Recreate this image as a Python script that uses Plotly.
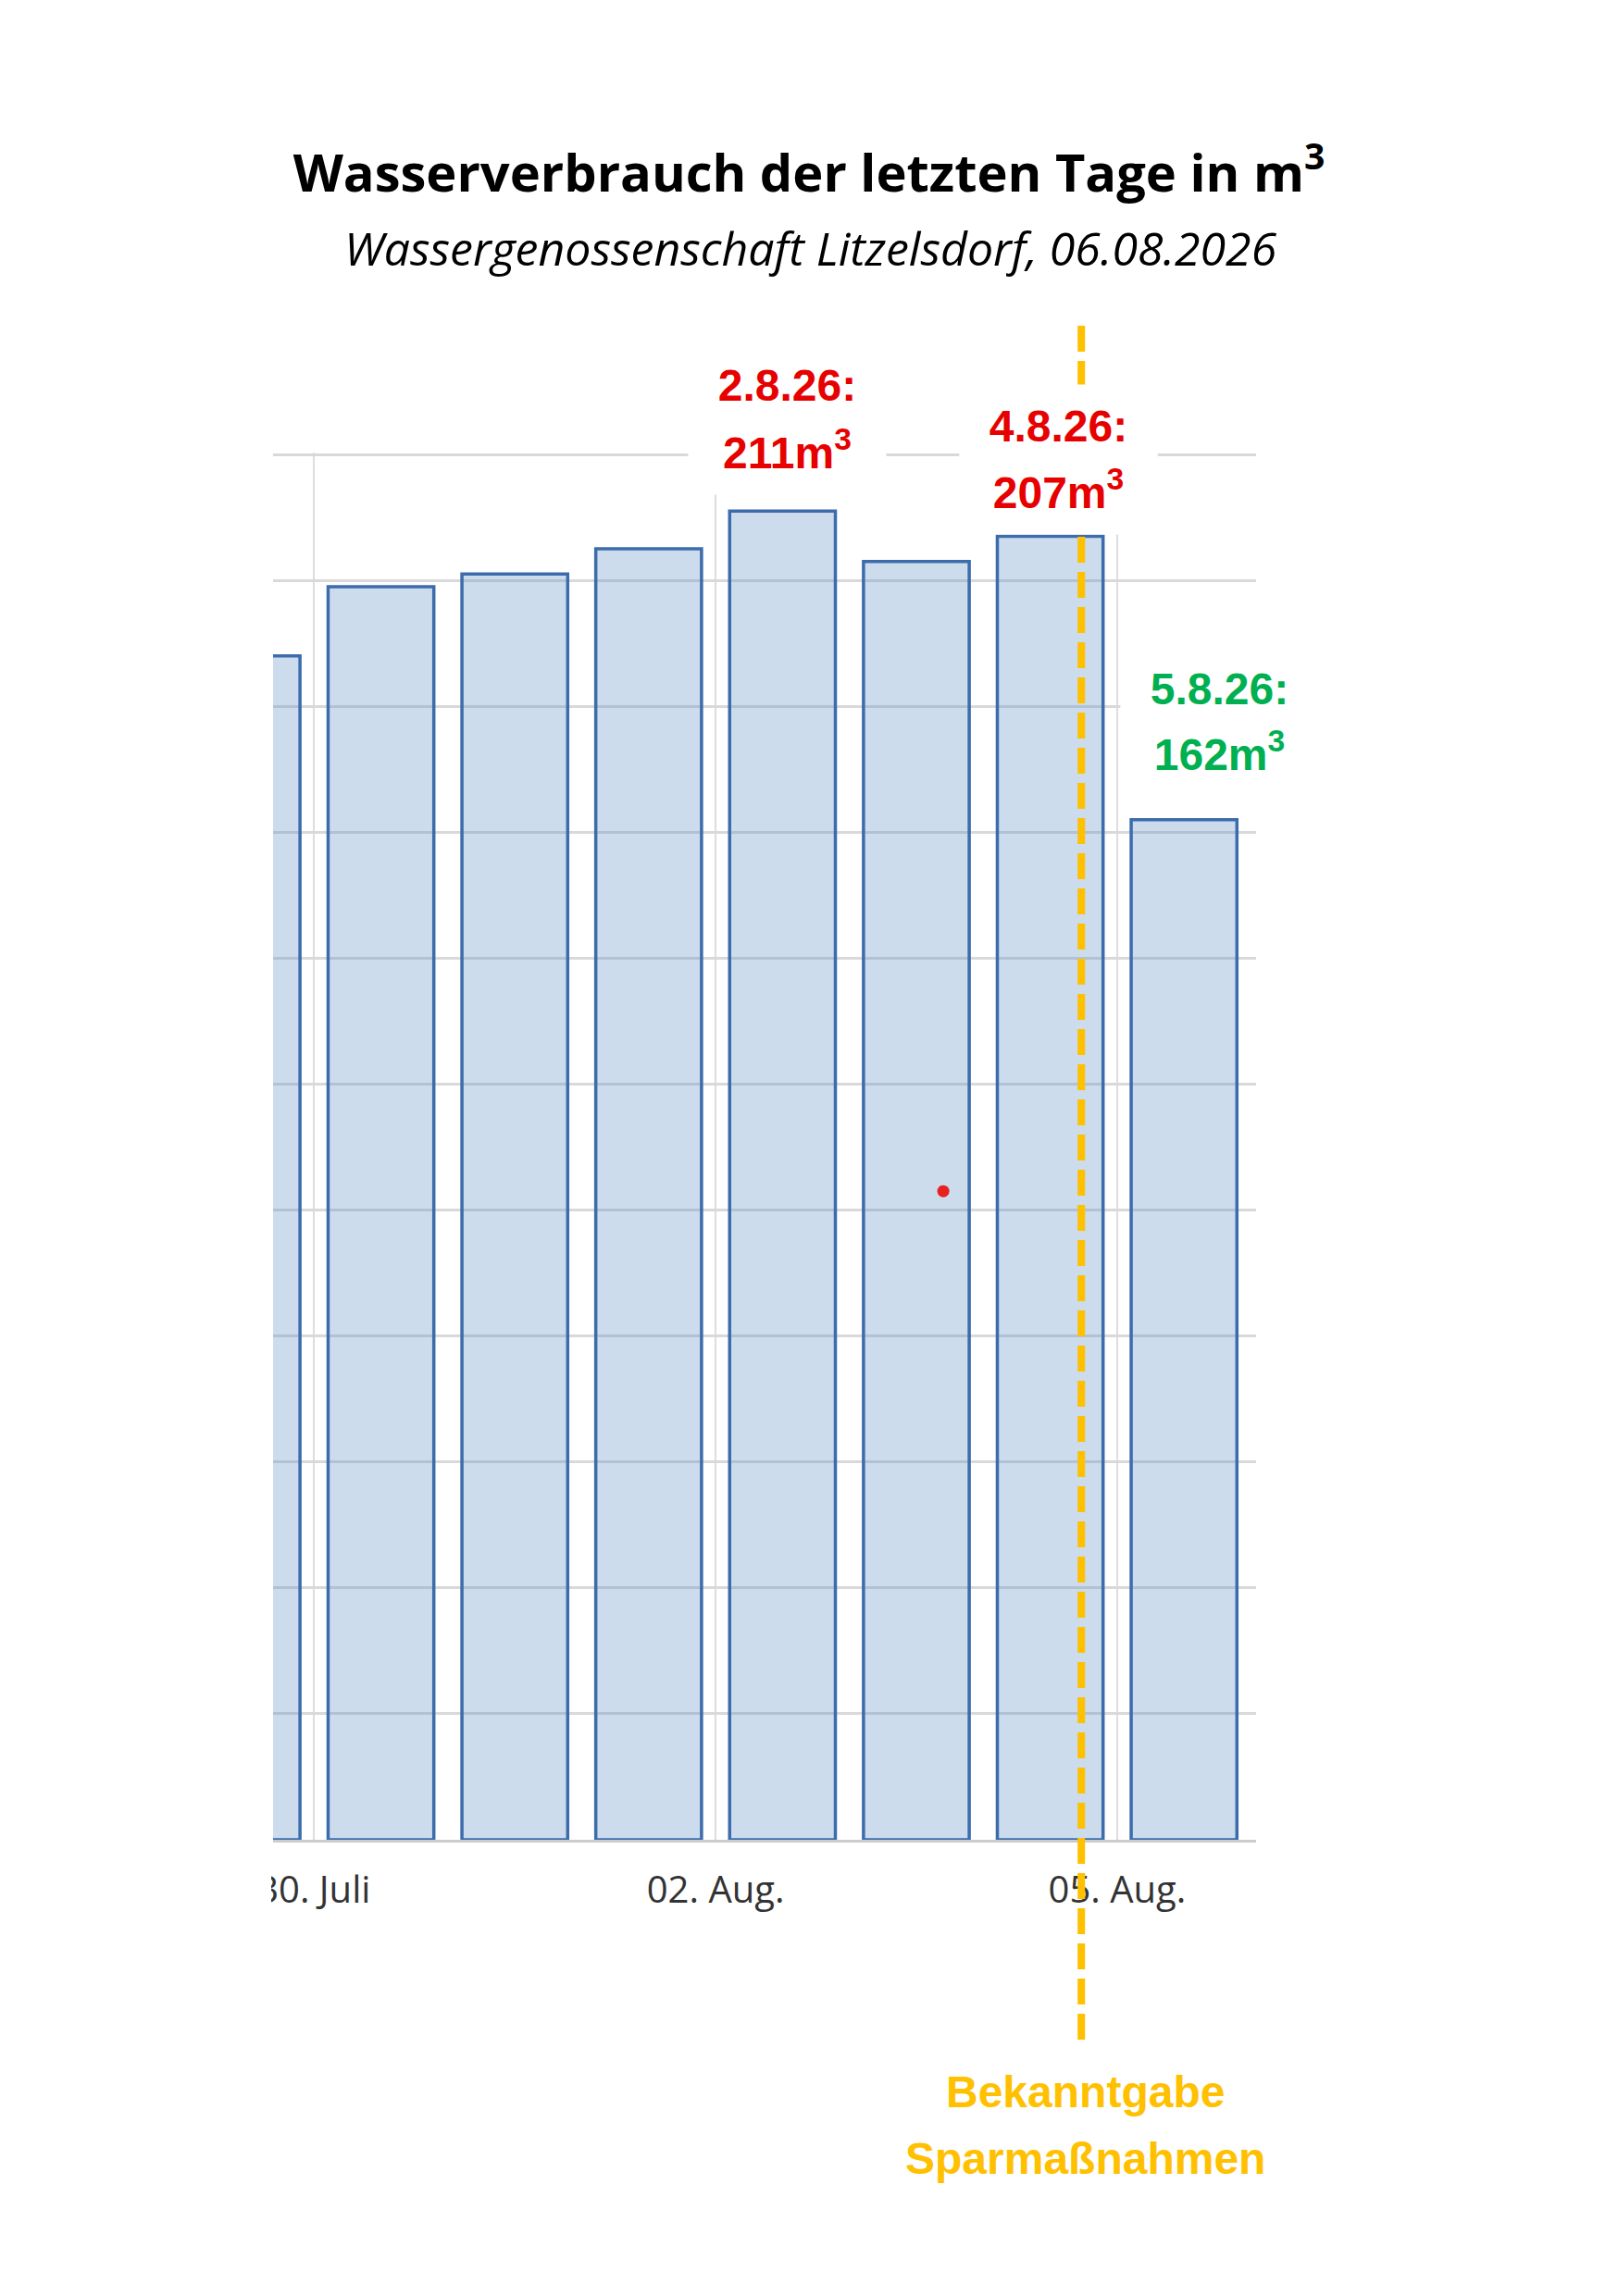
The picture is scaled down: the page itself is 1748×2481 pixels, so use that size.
import pandas as pd
import plotly.graph_objects as go

# Tagesverbrauch in m3, 29.07. - 05.08.2026
days = ["2026-07-29", "2026-07-30", "2026-07-31", "2026-08-01",
        "2026-08-02", "2026-08-03", "2026-08-04", "2026-08-05"]
consumption = [188, 199, 201, 205, 211, 203, 207, 162]

tick_days = ["2026-07-30", "2026-08-02", "2026-08-05"]
tick_labels = ["30. Juli", "02. Aug.", "05. Aug."]

# highlighted days (index into days) and their label colours
label_idx = [4, 6, 7]
label_colors = ["#e60000", "#e60000", "#00b050"]

# announcement of the saving measures
announcement = "2026-08-04 17:35"
announcement_text = ["Bekanntgabe", "Sparmaßnahmen"]

# stray red dot in the original picture
stray_dot_x = ["2026-08-03 16:50"]
stray_dot_y = [103]

# page is 1748x2481, the html body adds an 8px margin
PAGE_W, PAGE_H, BODY = 1748, 2481, 8
W, H = PAGE_W - 2 * BODY, PAGE_H - 2 * BODY
L, R, T, B = 295, 1357, 489, 1988  # plot area in page px
Y_MAX = 220.3

DAY_MS = 86400000
YELLOW = "#ffc000"


def ypaper(ypx):
    return (B - ypx) / (B - T)


def xpaper(xpx):
    return (xpx - L) / (R - L)


def main():
    fig = go.Figure()

    fig.add_trace(go.Bar(
        x=days,
        y=consumption,
        xperiod=DAY_MS,
        xperiodalignment="middle",
        width=0.79 * DAY_MS,
        marker=dict(color="rgba(100,150,200,0.33)",
                    line=dict(color="#3d6cac", width=3.5)),
        hoverinfo="skip",
    ))

    fig.add_trace(go.Scatter(
        x=stray_dot_x, y=stray_dot_y, mode="markers",
        marker=dict(size=13, color="#e8201e"),
        hoverinfo="skip",
    ))

    # labels above the highlighted bars, two lines each with white box
    label_pos = [(416, 486, 5), (460, 529, 9), (744, 812, 38)]
    for (i, col, (y1, y2, shift)) in zip(label_idx, label_colors, label_pos):
        d = pd.Timestamp(days[i])
        xc = d + pd.Timedelta(hours=12)
        lines = [f"{d.day}.{d.month}.{d.year % 100}:",
                 f"{consumption[i]}m<sup>3</sup>"]
        for txt, ypx in zip(lines, [y1, y2]):
            fig.add_annotation(
                x=xc, xref="x", y=ypaper(ypx), yref="paper",
                text=f"<b>{txt}</b>", showarrow=False,
                xanchor="center", yanchor="middle", xshift=shift,
                width=177, borderpad=18, bgcolor="white",
                font=dict(family="Liberation Sans, Arial", size=48, color=col),
            )

    # dashed line for the announcement
    fig.add_shape(
        type="line", xref="x", yref="paper",
        x0=announcement, x1=announcement,
        y0=ypaper(352), y1=ypaper(2205),
        line=dict(color=YELLOW, width=8, dash="28px,10px"),
        layer="above",
    )
    for txt, ypx in zip(announcement_text, [2260, 2332]):
        fig.add_annotation(
            x=announcement, xref="x", y=ypaper(ypx), yref="paper",
            text=f"<b>{txt}</b>", showarrow=False, xshift=4,
            xanchor="center", yanchor="middle",
            font=dict(family="Liberation Sans, Arial", size=48, color=YELLOW),
        )

    # subtitle
    fig.add_annotation(
        x=xpaper(876), xref="paper", y=ypaper(268), yref="paper",
        text="<i>Wassergenossenschaft Litzelsdorf, 06.08.2026</i>",
        showarrow=False, xanchor="center", yanchor="middle",
        font=dict(family="Open Sans", size=50, color="black"),
    )

    # the original screenshot cuts the first tick label off
    fig.add_shape(
        type="rect", xref="paper", yref="paper",
        x0=-0.5, x1=xpaper(293), y0=ypaper(2110), y1=ypaper(1993),
        fillcolor="white", line=dict(width=0), layer="above",
    )

    fig.update_layout(
        width=W, height=H,
        margin=dict(l=L - BODY, r=W - (R - BODY), t=T - BODY,
                    b=H - (B - BODY), pad=0),
        paper_bgcolor="white", plot_bgcolor="white",
        showlegend=False,
        title=dict(
            text="<b>Wasserverbrauch der letzten Tage in m<sup>3</sup></b>",
            x=0.5, xref="container", xanchor="center",
            y=1 - (187 - BODY) / H, yref="container", yanchor="middle",
            font=dict(family="Open Sans", size=56, color="black"),
        ),
        xaxis=dict(
            type="date",
            range=["2026-07-29 16:39", "2026-08-06 00:55"],
            tickvals=tick_days, ticktext=tick_labels,
            showgrid=True, gridcolor="#dddddd", gridwidth=2,
            showline=True, linecolor="#cccccc", linewidth=3,
            ticks="", ticklabelstandoff=17,
            tickfont=dict(family="Open Sans", size=40, color="#333333"),
            zeroline=False,
        ),
        yaxis=dict(
            range=[0, Y_MAX], dtick=20,
            showticklabels=False, showgrid=True,
            gridcolor="#d9d9d9", gridwidth=3,
            zeroline=False, showline=False,
        ),
    )

    fig.write_html("out.html")


if __name__ == "__main__":
    main()
